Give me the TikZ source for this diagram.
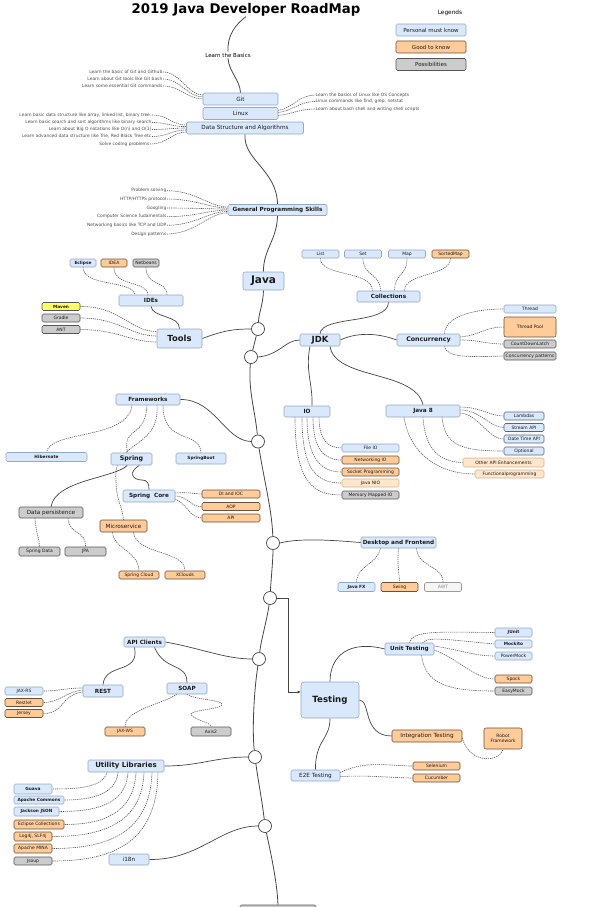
\documentclass[tikz,border=0pt]{standalone}
\usepackage{fontspec}
\setmainfont{DejaVu Sans}
\usetikzlibrary{arrows.meta,backgrounds}
\definecolor{bfill}{HTML}{DAE8FC}
\definecolor{bdraw}{HTML}{8FA9C9}
\definecolor{bdark}{HTML}{56677A}
\definecolor{ofill}{HTML}{FFCC99}
\definecolor{odraw}{HTML}{6B4F36}
\definecolor{gfill}{HTML}{CCCCCC}
\definecolor{gdraw}{HTML}{555555}
\definecolor{lofill}{HTML}{FFE6CC}
\definecolor{lodraw}{HTML}{D7B48A}
\definecolor{yfill}{HTML}{FFFF66}
\definecolor{wfill}{HTML}{F5F5F5}
\definecolor{wdraw}{HTML}{999999}
\definecolor{wtext}{HTML}{888888}
\definecolor{linec}{HTML}{444444}
\definecolor{dotc}{HTML}{555555}
\definecolor{notec}{HTML}{4A4A4A}
\definecolor{txt}{HTML}{1A1A1A}
\begin{document}
\begin{tikzpicture}[x=1pt,y=-1pt,
  bx/.style={rounded corners=1.5pt, inner sep=0pt, line width=0.55pt, align=center, text=txt},
  bl/.style={bx, fill=bfill, draw=bdraw},
  bld/.style={bx, fill=bfill, draw=bdark},
  orng/.style={bx, fill=ofill, draw=odraw},
  gr/.style={bx, fill=gfill, draw=gdraw},
  lo/.style={bx, fill=lofill, draw=lodraw},
  ye/.style={bx, fill=yfill, draw=gdraw},
  wh/.style={bx, fill=wfill, draw=wdraw, text=wtext},
  sz/.style 2 args={minimum width=#1pt, minimum height=#2pt},
  fs/.style={font=\fontsize{4.5}{5}\selectfont},
  fsb/.style={font=\fontsize{4.3}{5}\selectfont\bfseries},
  fm/.style={font=\fontsize{5.7}{6.5}\selectfont},
  fmb/.style={font=\fontsize{5.7}{6.5}\selectfont\bfseries},
  lbl/.style={font=\fontsize{4.4}{5}\selectfont, text=notec, inner sep=0.5pt},
  spine/.style={draw=linec, line width=0.8pt},
  solidl/.style={draw=linec, line width=0.7pt},
  dotl/.style={draw=dotc, line width=0.6pt, dash pattern=on 1.2pt off 0.9pt},
  circ/.style={circle, draw=linec, fill=white, line width=0.7pt, minimum size=13pt, inner sep=0pt}
]
\useasboundingbox (0,0) rectangle (600,907);

% title and legend
\node[font=\fontsize{13.3}{15}\selectfont\bfseries, inner sep=0pt] (title) at (246,10) {2019 Java Developer RoadMap};
\node[font=\fontsize{5.8}{7}\selectfont, inner sep=0pt] (legends) at (450,13) {Legends};
\node[bl, sz={70}{12}, font=\fontsize{5.5}{6.5}\selectfont] (lg1) at (431,30) {Personal must know};
\node[orng, sz={70}{12}, font=\fontsize{5.5}{6.5}\selectfont] (lg2) at (431,47) {Good to know};
\node[gr, sz={70}{12}, font=\fontsize{5.5}{6.5}\selectfont] (lg3) at (431,64.5) {Possibilities};

% basics
\node[font=\fontsize{5.5}{6.5}\selectfont, inner sep=1pt] (basics) at (228,55) {Learn the Basics};
\node[bl, sz={75}{12}, fm] (git) at (240.5,99) {Git};
\node[bl, sz={75}{12}, fm] (linux) at (240.5,113.5) {Linux};
\node[bl, sz={117}{12}, fm] (dsa) at (245,128) {Data Structure and Algorithms};

\node[lbl, anchor=east] (g1) at (163,72) {Learn the basic of Git and Github};
\node[lbl, anchor=east] (g2) at (163,79) {Learn about Git tools like Git bash};
\node[lbl, anchor=east] (g3) at (163,86) {Learn some essential Git commands};
\node[lbl, anchor=west] (l1) at (315,95) {Learn the basics of Linux like OS Concepts};
\node[lbl, anchor=west] (l2) at (315,101.5) {Linux commands like find, grep, netstat};
\node[lbl, anchor=west] (l3) at (315,109) {Learn about bash shell and writing shell scripts};
\node[lbl, anchor=east] (d1) at (152,115) {Learn basic data structure like array, linked list, binary tree.};
\node[lbl, anchor=east] (d2) at (152,122.5) {Learn basic search and sort algorithms like binary search};
\node[lbl, anchor=east] (d3) at (152,129.5) {Learn about Big O notations like O(n) and O(1)};
\node[lbl, anchor=east] (d4) at (152,136.5) {Learn advanced data structure like Trie, Red Black Tree etc};
\node[lbl, anchor=east] (d5) at (150,144) {Solve coding problems};

\node[bl, sz={99}{11}, fmb] (gps) at (277.5,210) {General Programming Skills};
\node[lbl, anchor=east] (p1) at (167,190.7) {Problem solving};
\node[lbl, anchor=east] (p2) at (167,199) {HTTP/HTTPS protocol};
\node[lbl, anchor=east] (p3) at (167,208) {Googling};
\node[lbl, anchor=east] (p4) at (167,216.7) {Computer Science fudamentals};
\node[lbl, anchor=east] (p5) at (167,225.3) {Networking basics like TCP and UDP};
\node[lbl, anchor=east] (p6) at (167,234) {Design patterns};

\node[bl, sz={41}{18}, rounded corners=2pt, font=\fontsize{10.5}{12}\selectfont\bfseries] (java) at (263.5,281) {Java};

% IDEs / tools
\node[bl, sz={26}{8}, fsb] (eclipse) at (83,263) {Eclipse};
\node[orng, sz={26}{8}, fs] (idea) at (114,263) {IDEA};
\node[gr, sz={26}{8}, fs] (netbeans) at (146,263) {Netbeans};
\node[bl, sz={64}{11}, fmb] (ides) at (151,300.5) {IDEs};
\node[ye, sz={38}{8}, fsb] (maven) at (61,306.5) {Maven};
\node[gr, sz={38}{8}, fs] (gradle) at (61,318) {Gradle};
\node[gr, sz={38}{8}, fs] (ant) at (61,329.5) {ANT};
\node[bl, sz={45}{19}, rounded corners=2pt, font=\fontsize{8.4}{10}\selectfont\bfseries] (tools) at (179.5,338.5) {Tools};

% circles
\node[circ] (c1) at (258,329) {};
\node[circ] (c2) at (251,357) {};
\node[circ] (c3) at (258,441.5) {};
\node[circ] (c4) at (273,543) {};
\node[circ] (c5) at (270,598) {};
\node[circ] (c6) at (259,659) {};
\node[circ] (c7) at (255,757) {};
\node[circ] (c8) at (265,826) {};
\node[gr, sz={76}{12}] (bottom) at (278,911) {};

% collections / JDK
\node[bl, sz={37}{8}, fs] (list) at (320.5,254) {List};
\node[bl, sz={37}{8}, fs] (set) at (363,254) {Set};
\node[bl, sz={37}{8}, fs] (map) at (407,254) {Map};
\node[orng, sz={37}{8}, fs] (sortedmap) at (450.5,254) {SortedMap};
\node[bl, sz={63}{11}, fmb] (coll) at (388.5,296.5) {Collections};
\node[bl, sz={40}{12}, font=\fontsize{8.5}{10}\selectfont\bfseries] (jdk) at (320,340) {JDK};
\node[bl, sz={63}{12}, font=\fontsize{6.3}{7}\selectfont\bfseries] (conc) at (428.5,340) {Concurrency};
\node[bl, sz={52}{8}, fs] (thread) at (530,309) {Thread};
\node[orng, sz={52}{20}, fs, rounded corners=2pt] (tpool) at (530,327) {Thread Pool};
\node[gr, sz={52}{8}, fs] (cdl) at (530,344) {CountDownLatch};
\node[gr, sz={52}{8}, fs] (cpat) at (530,356) {Concurrency patterns};

\node[bl, sz={46}{11}, fmb] (io) at (307,411.5) {IO};
\node[bl, sz={74}{12}, fmb] (java8) at (423,411) {Java 8};
\node[bl, sz={57}{8}, fs] (fileio) at (370.5,448) {File IO};
\node[orng, sz={57}{8}, fs] (netio) at (370.5,460) {Networking IO};
\node[orng, sz={57}{8}, fs] (sock) at (370.5,472) {Socket Programming};
\node[lo, sz={57}{8}, fs] (nio) at (370.5,483) {Java NIO};
\node[gr, sz={57}{8}, fs] (mmio) at (370.5,495) {Memory Mapped IO};
\node[bld, sz={40}{8}, fs] (lambdas) at (524,416) {Lambdas};
\node[bld, sz={40}{8}, fs] (stream) at (524,427.5) {Stream API};
\node[bld, sz={40}{8}, fs] (datetime) at (524,439) {Date Time API};
\node[bld, sz={40}{8}, fs] (optional) at (524,451) {Optional};
\node[lo, sz={81}{9}, fs] (otherapi) at (503.5,462.5) {Other API Enhancements};
\node[lo, sz={69}{8}, fs] (functional) at (509.5,474) {Functionalprogramming};

% frameworks
\node[bl, sz={64}{11}, fmb] (fw) at (148,399.5) {Frameworks};
\node[bl, sz={81}{9}, fsb] (hibernate) at (46.5,457) {Hibernate};
\node[bl, sz={41}{12}, font=\fontsize{6.3}{7}\selectfont\bfseries] (spring) at (131.5,459) {Spring};
\node[bl, sz={50}{11}, fsb] (springboot) at (201,458.5) {SpringBoot};
\node[bl, sz={52}{12}, fmb] (springcore) at (149,496) {Spring~~Core};
\node[orng, sz={58}{8}, fs] (di) at (231,494) {DI and IOC};
\node[orng, sz={58}{8}, fs] (aop) at (231,506.5) {AOP};
\node[orng, sz={58}{8}, fs] (api) at (231,518) {API};
\node[gr, sz={64}{11}, fm] (dp) at (51,512.5) {Data persistence};
\node[gr, sz={41}{9}, fs] (springdata) at (39.5,551.5) {Spring Data};
\node[gr, sz={41}{9}, fs] (jpa) at (85.5,551.5) {JPA};
\node[orng, sz={47}{12}, fm] (micro) at (123.5,526) {Microservice};
\node[orng, sz={40}{8}, fs] (scloud) at (139,575) {Spring Cloud};
\node[orng, sz={40}{8}, fs] (xclouds) at (185,575) {XClouds};

% desktop
\node[bl, sz={75}{11}, fmb] (desk) at (398.5,542.5) {Desktop and Frontend};
\node[bl, sz={37}{9}, fsb] (javafx) at (356.5,587) {Java FX};
\node[orng, sz={37}{9}, fs] (swing) at (399.5,587) {Swing};
\node[wh, sz={37}{9}, fs] (awt) at (443,587) {AWT};

% API clients
\node[bl, sz={41}{10}, fmb] (apic) at (144.5,642) {API Clients};
\node[bl, sz={40}{12}, fmb] (rest) at (103,691) {REST};
\node[bl, sz={40}{11}, fmb] (soap) at (187,688.5) {SOAP};
\node[bl, sz={38}{8}, fs] (jaxrs) at (24,691) {JAX-RS};
\node[orng, sz={38}{8}, fs] (restlet) at (24,702.5) {Restlet};
\node[orng, sz={38}{8}, fs] (jersey) at (24,713.5) {Jersey};
\node[orng, sz={40}{9}, fs] (jaxws) at (125,731.5) {JAX-WS};
\node[gr, sz={40}{9}, fs] (axis2) at (211,731.5) {Axis2};

% testing
\node[bl, sz={58}{36}, rounded corners=3pt, font=\fontsize{8.6}{10}\selectfont\bfseries] (testing) at (330,700) {Testing};
\node[bl, sz={49}{12}, fmb] (unit) at (409.5,649) {Unit Testing};
\node[bl, sz={37}{9}, fsb] (junit) at (513.5,632.5) {JUnit};
\node[bl, sz={37}{8}, fsb] (mockito) at (513.5,644) {Mockito};
\node[bl, sz={37}{8}, fs] (powermock) at (513.5,656) {PowerMock};
\node[orng, sz={37}{8}, fs] (spock) at (513.5,679) {Spock};
\node[gr, sz={37}{8}, fs] (easymock) at (513.5,691) {EasyMock};
\node[orng, sz={70}{12}, fm] (integ) at (427,736) {Integration Testing};
\node[orng, sz={38}{21}, fs, rounded corners=2pt] (robot) at (503,738.5) {Robot\\Framework};
\node[bl, sz={49}{11}, fm] (e2e) at (315.5,775.5) {E2E Testing};
\node[orng, sz={47}{8}, fs] (selenium) at (436.5,766) {Selenium};
\node[orng, sz={47}{8}, fs] (cucumber) at (436.5,778) {Cucumber};

% utility
\node[bl, sz={76}{12}, font=\fontsize{7}{8}\selectfont\bfseries] (util) at (126,766) {Utility Libraries};
\node[bl, sz={38}{10}, fsb] (guava) at (33,789) {Guava};
\node[bl, sz={50}{8}, fsb] (acommons) at (39,800) {Apache Commons};
\node[bl, sz={45}{9}, fsb] (jackson) at (36.5,811.5) {Jackson JSON};
\node[orng, sz={50}{9}, fs] (ecoll) at (39,824.5) {Eclipse Collections};
\node[orng, sz={38}{9}, fs] (log4j) at (33,836.5) {Log4j, SLF4j};
\node[orng, sz={38}{9}, fs] (mina) at (33,848.5) {Apache MINA};
\node[gr, sz={38}{8}, fs] (jsoup) at (33,861) {Jsoup};
\node[bl, sz={40}{11}, fm] (i18n) at (129,859.5) {i18n};

\begin{pgfonlayer}{background}
% spine
\draw[spine] (title.south) .. controls (236,24) and (227,35) .. (basics.north);
\draw[spine] (basics.south) .. controls (229,72) and (240,80) .. (git.north);
\draw[spine] (dsa.south) .. controls (243,160) and (277,170) .. (gps.north);
\draw[spine] (gps.south) .. controls (277,240) and (263,250) .. (java.north);
\draw[spine] (java.south) .. controls (263,305) and (259,312) .. (c1);
\draw[spine] (c1) -- (c2);
\draw[spine] (c2) .. controls (248,390) and (255,410) .. (c3);
\draw[spine] (c3) .. controls (264,480) and (272,510) .. (c4);
\draw[spine] (c4) .. controls (273,560) and (271,580) .. (c5);
\draw[spine] (c5) .. controls (267,620) and (261,640) .. (c6);
\draw[spine] (c6) .. controls (254,690) and (252,730) .. (c7);
\draw[spine] (c7) .. controls (258,780) and (262,800) .. (c8);
\draw[spine] (c8) .. controls (270,850) and (277,880) .. (bottom.north);

% branches from spine
\draw[solidl] (tools.east) .. controls (225,330) and (235,329) .. (c1.west);
\draw[solidl] (c2.east) .. controls (280,355) and (285,340) .. (jdk.west);
\draw[solidl] (fw.east) .. controls (215,399) and (225,441) .. (c3.west);
\draw[solidl] (c4.east) .. controls (300,538) and (330,540) .. (desk.west);
\draw[solidl,-{Latex[length=3pt,width=3pt]}] (c5.east) -- ++(11,0) |- ([yshift=8pt]testing.west);
\draw[solidl] (apic.east) .. controls (200,648) and (225,659) .. (c6.west);
\draw[solidl] (util.east) .. controls (200,766) and (215,757) .. (c7.west);
\draw[solidl] (i18n.east) .. controls (200,860) and (220,826) .. (c8.west);

% basics notes
\draw[dotl] (g1.east) .. controls (180,72) and (188,95) .. ([yshift=4pt]git.west);
\draw[dotl] (g2.east) .. controls (180,79) and (188,97) .. ([yshift=2pt]git.west);
\draw[dotl] (g3.east) .. controls (180,86) and (188,99) .. (git.west);
\draw[dotl] ([yshift=3pt]linux.east) .. controls (292,108) and (300,95) .. (l1.west);
\draw[dotl] ([yshift=1pt]linux.east) .. controls (292,111) and (300,101.5) .. (l2.west);
\draw[dotl] ([yshift=-2pt]linux.east) .. controls (292,114) and (300,109) .. (l3.west);
\draw[dotl] (d1.east) .. controls (168,115) and (172,125) .. ([yshift=3pt]dsa.west);
\draw[dotl] (d2.east) .. controls (168,122.5) and (172,127) .. ([yshift=1.5pt]dsa.west);
\draw[dotl] (d3.east) .. controls (168,129.5) and (172,128) .. (dsa.west);
\draw[dotl] (d4.east) .. controls (168,136.5) and (172,130) .. ([yshift=-2pt]dsa.west);
\draw[dotl] (d5.east) .. controls (168,144) and (172,132) .. ([yshift=-4pt]dsa.west);
\draw[dotl] (p1.east) .. controls (195,190.7) and (210,207) .. ([yshift=3pt]gps.west);
\draw[dotl] (p2.east) .. controls (195,199) and (210,208) .. ([yshift=2pt]gps.west);
\draw[dotl] (p3.east) .. controls (195,208) and (210,209) .. ([yshift=1pt]gps.west);
\draw[dotl] (p4.east) .. controls (195,216.7) and (210,210) .. (gps.west);
\draw[dotl] (p5.east) .. controls (195,225.3) and (210,211) .. ([yshift=-1.5pt]gps.west);
\draw[dotl] (p6.east) .. controls (195,234) and (210,212) .. ([yshift=-3pt]gps.west);

% IDEs / tools
\draw[solidl] (ides.south) .. controls (152,318) and (180,315) .. (tools.north);
\draw[dotl] (eclipse.south) .. controls (83,287) and (133,280) .. ([xshift=-16pt]ides.north);
\draw[dotl] (idea.south) .. controls (114,287) and (146,280) .. ([xshift=-3pt]ides.north);
\draw[dotl] (netbeans.south) .. controls (146,287) and (167,280) .. ([xshift=16pt]ides.north);
\draw[dotl] (maven.east) .. controls (120,306) and (130,331.5) .. ([yshift=7pt]tools.west);
\draw[dotl] (gradle.east) .. controls (120,318) and (130,336) .. ([yshift=2.5pt]tools.west);
\draw[dotl] (ant.east) .. controls (120,330) and (130,342) .. ([yshift=-3.5pt]tools.west);

% collections / JDK
\draw[dotl] (list.south) .. controls (320,277) and (372,270) .. ([xshift=-16pt]coll.north);
\draw[dotl] (set.south) .. controls (363,277) and (380,272) .. ([xshift=-8pt]coll.north);
\draw[dotl] (map.south) .. controls (407,277) and (395,272) .. ([xshift=6pt]coll.north);
\draw[dotl] (sortedmap.south) .. controls (450,277) and (405,272) .. ([xshift=16pt]coll.north);
\draw[solidl] (coll.south) .. controls (388,325) and (322,315) .. (jdk.north);
\draw[solidl] (jdk.east) .. controls (355,333) and (375,332) .. (conc.west);
\draw[dotl] ([xshift=16pt]conc.north) .. controls (445,318) and (470,309) .. (thread.west);
\draw[dotl] ([yshift=3pt]conc.east) .. controls (480,335) and (485,327) .. (tpool.west);
\draw[dotl] (conc.east) .. controls (480,340) and (485,344) .. (cdl.west);
\draw[dotl] ([xshift=16pt]conc.south) .. controls (446,358) and (470,357) .. (cpat.west);
\draw[solidl] ([xshift=-10pt]jdk.south) .. controls (305,370) and (313,385) .. ([xshift=5pt]io.north);
\draw[solidl] ([xshift=10pt]jdk.south) .. controls (335,380) and (415,370) .. (java8.north);
\draw[dotl] ([xshift=12pt]io.south) .. controls (319,440) and (328,448) .. (fileio.west);
\draw[dotl] ([xshift=6pt]io.south) .. controls (313,450) and (325,460) .. (netio.west);
\draw[dotl] (io.south) .. controls (307,460) and (322,472) .. (sock.west);
\draw[dotl] ([xshift=-5pt]io.south) .. controls (302,472) and (318,483) .. (nio.west);
\draw[dotl] ([xshift=-12pt]io.south) .. controls (295,485) and (315,495) .. (mmio.west);
\draw[dotl] ([yshift=4pt]java8.east) .. controls (480,407) and (490,416) .. (lambdas.west);
\draw[dotl] ([yshift=1pt]java8.east) .. controls (480,410) and (490,427.5) .. (stream.west);
\draw[dotl] ([yshift=-2pt]java8.east) .. controls (478,414) and (488,439) .. (datetime.west);
\draw[dotl] ([xshift=19pt]java8.south) .. controls (445,445) and (460,451) .. (optional.west);
\draw[dotl] (java8.south) .. controls (425,450) and (440,462) .. (otherapi.west);
\draw[dotl] ([xshift=-19pt]java8.south) .. controls (410,455) and (440,474) .. (functional.west);

% frameworks
\draw[dotl] ([xshift=-16pt]fw.south) .. controls (128,440) and (50,430) .. (hibernate.north);
\draw[dotl] ([xshift=-1pt]fw.south) .. controls (145,440) and (122,425) .. ([xshift=-4pt]spring.north);
\draw[dotl] ([xshift=9pt]fw.south) .. controls (160,450) and (112,440) .. (116,480) .. controls (116,500) and (122,505) .. (micro.north);
\draw[dotl] ([xshift=15pt]fw.south) .. controls (163,445) and (200,430) .. (springboot.north);
\draw[solidl] ([xshift=8pt]spring.south) .. controls (128,472) and (132,480) .. (142,480) .. controls (148,480) and (149,484) .. (springcore.north);
\draw[solidl] ([xshift=-4pt]spring.south) .. controls (115,478) and (55,480) .. (dp.north);
\draw[dotl] ([yshift=3pt]springcore.east) .. controls (190,492) and (195,494) .. (di.west);
\draw[dotl] (springcore.east) .. controls (190,497) and (190,507) .. (aop.west);
\draw[dotl] ([yshift=-3pt]springcore.east) .. controls (188,505) and (190,518) .. (api.west);
\draw[dotl] ([xshift=-16pt]dp.south) .. controls (36,535) and (40,540) .. (springdata.north);
\draw[dotl] ([xshift=17pt]dp.south) .. controls (69,535) and (86,530) .. (jpa.north);
\draw[dotl] ([xshift=-11pt]micro.south) .. controls (114,550) and (138,550) .. (scloud.north);
\draw[dotl] ([xshift=10pt]micro.south) .. controls (136,555) and (185,550) .. (xclouds.north);

% desktop
\draw[dotl] ([xshift=-18pt]desk.south) .. controls (377,565) and (357,565) .. (javafx.north);
\draw[dotl] (desk.south) .. controls (397,565) and (399,570) .. (swing.north);
\draw[dotl] ([xshift=18pt]desk.south) .. controls (418,568) and (443,565) .. (awt.north);

% API clients
\draw[solidl] ([xshift=-10pt]apic.south) .. controls (140,675) and (105,662) .. (rest.north);
\draw[solidl] ([xshift=10pt]apic.south) .. controls (165,672) and (187,662) .. (soap.north);
\draw[dotl] ([yshift=3pt]rest.west) .. controls (65,688) and (60,691) .. (jaxrs.east);
\draw[dotl] ([yshift=1pt]rest.west) .. controls (65,692) and (60,702.5) .. (restlet.east);
\draw[dotl] ([yshift=-1pt]rest.west) .. controls (60,695) and (65,713.5) .. (jersey.east);
\draw[dotl] ([xshift=-10pt]soap.south) .. controls (160,705) and (125,710) .. (jaxws.north);
\draw[dotl] (soap.south) .. controls (195,700) and (225,700) .. (222,705) .. controls (218,710) and (185,710) .. (192,716) .. controls (198,721) and (210,722) .. (axis2.north);

% testing
\draw[solidl] (testing.north) .. controls (330,655) and (350,640) .. (unit.west);
\draw[dotl] (unit.north) .. controls (412,630) and (440,632) .. (junit.west);
\draw[dotl] ([xshift=13pt]unit.north) .. controls (428,636) and (450,640) .. (mockito.west);
\draw[dotl] ([yshift=3pt]unit.east) .. controls (460,650) and (475,656) .. (powermock.west);
\draw[dotl] ([yshift=-1pt]unit.east) .. controls (460,660) and (475,679) .. (spock.west);
\draw[dotl] ([xshift=12pt]unit.south) .. controls (425,685) and (450,691) .. (easymock.west);
\draw[solidl] (testing.east) .. controls (371,700) and (362,736) .. (integ.west);
\draw[dotl] ([yshift=-2pt]integ.east) .. controls (470,765) and (500,762) .. (robot.south);
\draw[solidl] (testing.south) .. controls (330,740) and (315,740) .. (e2e.north);
\draw[dotl] ([yshift=3pt]e2e.east) .. controls (365,760) and (390,766) .. (selenium.west);
\draw[dotl] ([yshift=-1pt]e2e.east) .. controls (370,775) and (395,778) .. (cucumber.west);

% utility
\draw[dotl] ([xshift=-19pt]util.south) .. controls (103,787) and (80,789) .. (guava.east);
\draw[dotl] ([xshift=-8pt]util.south) .. controls (116,795) and (90,800) .. (acommons.east);
\draw[dotl] ([xshift=2pt]util.south) .. controls (126,805) and (95,811.5) .. (jackson.east);
\draw[dotl] ([xshift=10pt]util.south) .. controls (134,815) and (100,824.5) .. (ecoll.east);
\draw[dotl] ([xshift=18pt]util.south) .. controls (142,825) and (100,836.5) .. (log4j.east);
\draw[dotl] ([xshift=26pt]util.south) .. controls (150,835) and (105,848.5) .. (mina.east);
\draw[dotl] ([xshift=32pt]util.south) .. controls (157,845) and (110,861) .. (jsoup.east);
\end{pgfonlayer}
\end{tikzpicture}
\end{document}
